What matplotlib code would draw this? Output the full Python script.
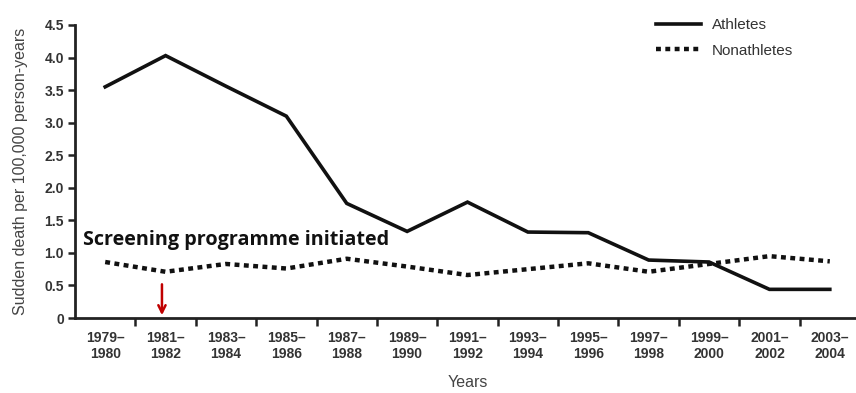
import matplotlib
matplotlib.use("Agg")
import matplotlib.pyplot as plt
import numpy as np

periods = ["1979–\n1980", "1981–\n1982", "1983–\n1984", "1985–\n1986", "1987–\n1988",
           "1989–\n1990", "1991–\n1992", "1993–\n1994", "1995–\n1996", "1997–\n1998",
           "1999–\n2000", "2001–\n2002", "2003–\n2004"]
athletes = [3.55, 4.03, 3.56, 3.10, 1.76, 1.33, 1.78, 1.32, 1.31, 0.89, 0.86, 0.44, 0.44]
nonathletes = [0.86, 0.71, 0.83, 0.76, 0.91, 0.79, 0.66, 0.75, 0.84, 0.71, 0.83, 0.95, 0.87]
y_ticks = [0, 0.5, 1.0, 1.5, 2.0, 2.5, 3.0, 3.5, 4.0, 4.5]
y_ticklabels = ["0", "0.5", "1.0", "1.5", "2.0", "2.5", "3.0", "3.5", "4.0", "4.5"]
screening_start = 1  # index of 1981–1982

tick_font = dict(family=["Liberation Sans Narrow", "Liberation Sans", "DejaVu Sans"],
                 weight="bold", size=10, color="#333333")
label_font = dict(family=["Liberation Sans", "DejaVu Sans"], size=11.5, color="#444444")

fig = plt.figure(figsize=(8.56, 3.93), dpi=100)
ax = fig.add_axes([75 / 856, 75 / 393, 785 / 856, 293 / 393])

x = np.arange(len(periods))
ax.plot(x, athletes, color="#111111", lw=2.6, solid_joinstyle="miter", label="Athletes")
ax.plot(x, nonathletes, color="#111111", lw=3.2, linestyle=(0, (1.1, 1.0)),
        label="Nonathletes")

ax.set_xlim(-0.5, len(periods) - 0.5)
ax.set_ylim(0, 4.5)
ax.set_xticks(x)
ax.set_xticklabels(periods, **tick_font, linespacing=1.2)
ax.set_xticks(np.arange(0.5, len(periods) - 0.5, 1.0), minor=True)
ax.tick_params(axis="x", which="major", length=0, pad=9)
ax.tick_params(axis="x", which="minor", length=6, width=1.8, direction="out", color="#222222")
ax.set_yticks(y_ticks)
ax.set_yticklabels(y_ticklabels, **tick_font)
ax.tick_params(axis="y", length=5, width=1.8, direction="out", color="#222222", pad=3)

for side in ("top", "right"):
    ax.spines[side].set_visible(False)
for side in ("left", "bottom"):
    ax.spines[side].set_linewidth(2.0)
    ax.spines[side].set_color("#222222")

ax.set_xlabel("Years", labelpad=10, **label_font)
ax.set_ylabel("Sudden death per 100,000 person-years", labelpad=12, **label_font)

leg = ax.legend(loc="upper left", bbox_to_anchor=(0.722, 1.07), frameon=False,
                handlelength=3.0, handletextpad=0.7, labelspacing=0.75,
                prop=dict(family=["Liberation Sans", "DejaVu Sans"], size=11))
for t in leg.get_texts():
    t.set_color("#333333")

ax.text(-0.36, 1.04, "Screening programme initiated", fontsize=14.2, fontweight="bold",
        family=["Open Sans", "DejaVu Sans"], color="#111111", va="bottom", ha="left")
ax.annotate("", xy=(screening_start - 0.06, 0.0), xytext=(screening_start - 0.06, 0.56),
            arrowprops=dict(arrowstyle="->", color="#C00000", lw=1.8, mutation_scale=13))

fig.savefig("out.png", dpi=100)
